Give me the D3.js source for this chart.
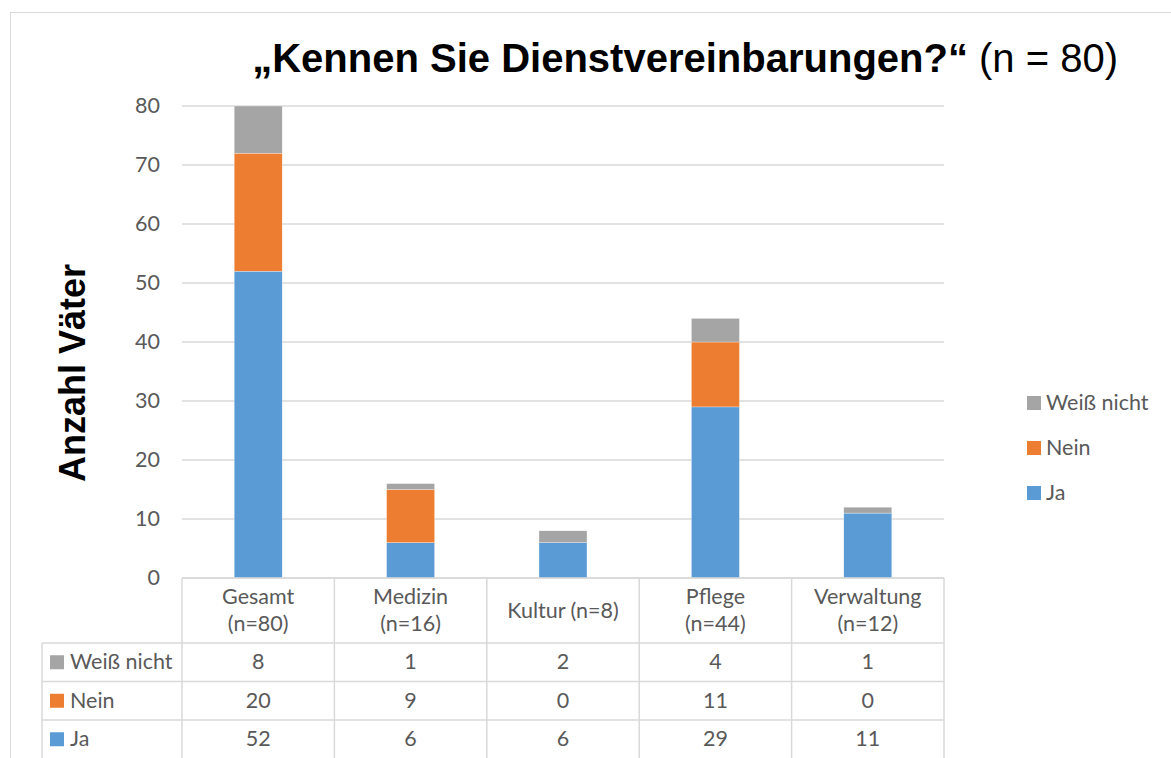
<!DOCTYPE html>
<html>
<head>
<meta charset="utf-8">
<script src="https://cdn.jsdelivr.net/npm/d3@7"></script>
<style>
  body { margin: 0; background: #fff; }
  svg { display: block; }
</style>
</head>
<body>
<div id="chart"></div>
<script>
const categories = ['Gesamt (n=80)', 'Medizin (n=16)', 'Kultur (n=8)', 'Pflege (n=44)', 'Verwaltung (n=12)']
const categoryLines = [['Gesamt', '(n=80)'], ['Medizin', '(n=16)'], ['Kultur (n=8)'], ['Pflege', '(n=44)'], ['Verwaltung', '(n=12)']]
const seriesNames = ['Ja', 'Nein', 'Weiß nicht']
const ja = [52, 6, 6, 29, 11]
const nein = [20, 9, 0, 11, 0]
const weissNicht = [8, 1, 2, 4, 1]
const yTicks = [0, 10, 20, 30, 40, 50, 60, 70, 80]
const colors = { 'Ja': '#5b9bd5', 'Nein': '#ed7d31', 'Weiß nicht': '#a5a5a5' }

const width = 1171
const height = 758
const margin = { top: 106, left: 182, right: 227, bottom: 180 }
const FONT = 'Lato, "Open Sans", sans-serif'
const FS = 21.5
const GRID = '#d9d9d9'
const TEXT = '#595959'

const rows = categories.map((c, i) => ({ cat: c, 'Ja': ja[i], 'Nein': nein[i], 'Weiß nicht': weissNicht[i] }))
const stacked = d3.stack().keys(seriesNames)(rows)

const svg = d3.select('#chart').append('svg')
  .attr('width', width)
  .attr('height', height)

// outer frame
svg.append('rect')
  .attr('x', 10.5).attr('y', 12.5)
  .attr('width', width + 20).attr('height', height)
  .attr('fill', 'none').attr('stroke', GRID)

const x = d3.scaleBand()
  .domain(categories)
  .range([margin.left, width - margin.right])
  .paddingInner(0).paddingOuter(0)

const y = d3.scaleLinear()
  .domain([0, 80])
  .range([height - margin.bottom, margin.top])

// gridlines
svg.append('g')
  .selectAll('line')
  .data(yTicks)
  .join('line')
  .attr('x1', margin.left).attr('x2', width - margin.right)
  .attr('y1', d => y(d)).attr('y2', d => y(d))
  .attr('stroke', GRID).attr('stroke-width', 1.5)

// y axis labels
const yAxis = svg.append('g')
  .attr('transform', `translate(${margin.left - 22},0)`)
  .call(d3.axisLeft(y).tickValues(yTicks).tickSize(0).tickPadding(0))
yAxis.select('.domain').remove()
yAxis.selectAll('text')
  .attr('font-family', FONT).attr('font-size', FS).attr('fill', TEXT)

// bars
const barW = 48
svg.append('g')
  .selectAll('g')
  .data(stacked)
  .join('g')
  .attr('fill', d => colors[d.key])
  .selectAll('rect')
  .data(d => d)
  .join('rect')
  .attr('x', d => x(d.data.cat) + x.bandwidth() / 2 - barW / 2)
  .attr('width', barW)
  .attr('y', d => y(d[1]))
  .attr('height', d => y(d[0]) - y(d[1]))
  .attr('stroke', '#fff').attr('stroke-width', 0.5).attr('stroke-opacity', 0.6)

// data table
const tableTop = y(0)
const headerH = 65
const rowH = 38.5
const tableLeft = 42
const tableRows = [
  { name: 'Weiß nicht', values: weissNicht },
  { name: 'Nein', values: nein },
  { name: 'Ja', values: ja }
]
const table = svg.append('g')

// horizontal lines
table.append('line')
  .attr('x1', margin.left).attr('x2', width - margin.right)
  .attr('y1', tableTop).attr('y2', tableTop)
  .attr('stroke', GRID).attr('stroke-width', 1.5)
tableRows.forEach((r, i) => {
  const ty = tableTop + headerH + i * rowH
  table.append('line')
    .attr('x1', tableLeft).attr('x2', width - margin.right)
    .attr('y1', ty).attr('y2', ty)
    .attr('stroke', GRID).attr('stroke-width', 1.5)
})
// vertical lines
table.append('line')
  .attr('x1', tableLeft).attr('x2', tableLeft)
  .attr('y1', tableTop + headerH).attr('y2', height + 5)
  .attr('stroke', GRID).attr('stroke-width', 1.5)
const vlines = categories.map(c => x(c)).concat([width - margin.right])
table.selectAll('.vline')
  .data(vlines)
  .join('line')
  .attr('class', 'vline')
  .attr('x1', d => d).attr('x2', d => d)
  .attr('y1', tableTop).attr('y2', height + 5)
  .attr('stroke', GRID).attr('stroke-width', 1.5)

// header labels
categoryLines.forEach((lines, i) => {
  const cx = x(categories[i]) + x.bandwidth() / 2
  const cy = tableTop + headerH / 2
  const t = table.append('text')
    .attr('x', cx)
    .attr('text-anchor', 'middle')
    .attr('font-family', FONT).attr('font-size', FS).attr('fill', TEXT)
  lines.forEach((l, j) => {
    t.append('tspan')
      .attr('x', cx)
      .attr('y', cy + (j - (lines.length - 1) / 2) * 27 + 7)
      .text(l)
  })
})

// rows
tableRows.forEach((r, i) => {
  const cy = tableTop + headerH + i * rowH + rowH / 2
  table.append('rect')
    .attr('x', 50).attr('y', cy - 7).attr('width', 14).attr('height', 14)
    .attr('fill', colors[r.name])
  table.append('text')
    .attr('x', 70).attr('y', cy + 7)
    .attr('font-family', FONT).attr('font-size', FS).attr('fill', TEXT)
    .text(r.name)
  r.values.forEach((v, k) => {
    table.append('text')
      .attr('x', x(categories[k]) + x.bandwidth() / 2)
      .attr('y', cy + 7)
      .attr('text-anchor', 'middle')
      .attr('font-family', FONT).attr('font-size', FS).attr('fill', TEXT)
      .text(v)
  })
})

// legend
const legendItems = seriesNames.slice().reverse()
const legend = svg.append('g')
legendItems.forEach((name, i) => {
  const ly = 403 + i * 45
  legend.append('rect')
    .attr('x', 1027).attr('y', ly - 7).attr('width', 14).attr('height', 14)
    .attr('fill', colors[name])
  legend.append('text')
    .attr('x', 1046).attr('y', ly + 7)
    .attr('font-family', FONT).attr('font-size', FS).attr('fill', TEXT)
    .text(name)
})

// y axis title
svg.append('text')
  .attr('transform', `translate(85, 373) rotate(-90)`)
  .attr('text-anchor', 'middle')
  .attr('font-family', 'Arial, "Liberation Sans", sans-serif')
  .attr('font-size', 36).attr('font-weight', 'bold').attr('fill', '#000')
  .text('Anzahl Väter')

// title
const title = svg.append('text')
  .attr('x', 1118).attr('y', 72)
  .attr('text-anchor', 'end')
  .attr('font-family', 'Arial, "Liberation Sans", sans-serif')
  .attr('font-size', 40).attr('fill', '#000')
title.append('tspan').attr('font-weight', 'bold').text('„Kennen Sie Dienstvereinbarungen?“')
title.append('tspan').text(' (n = 80)')
</script>
</body>
</html>
